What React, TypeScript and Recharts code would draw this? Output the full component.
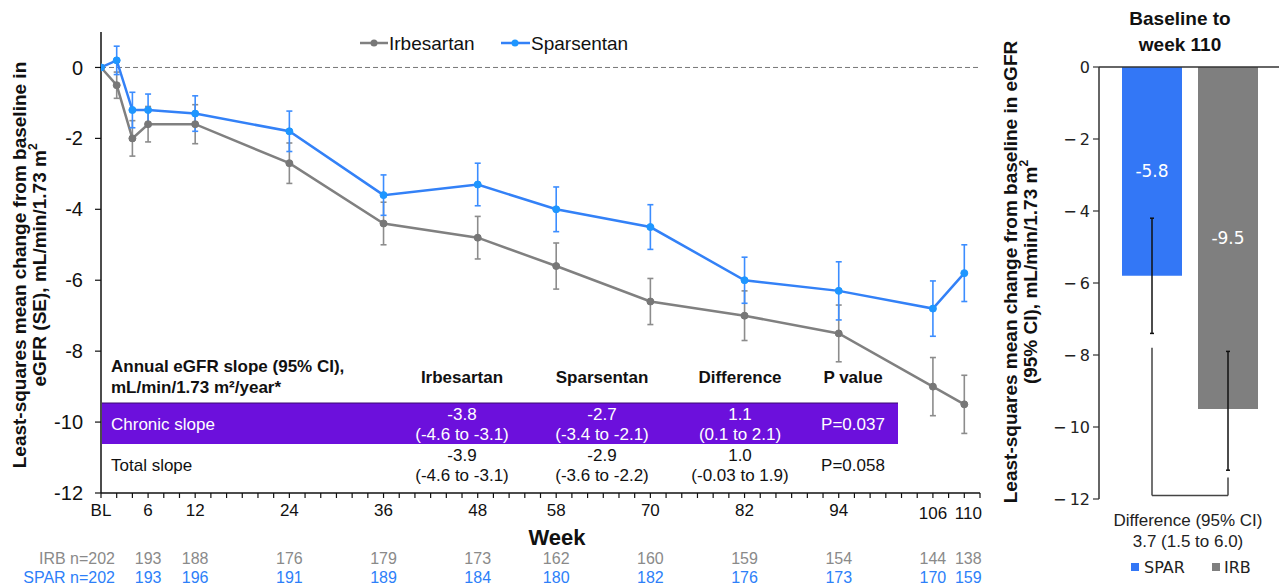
import React from 'react';
import {
  LineChart, Line, XAxis, YAxis, ErrorBar, ReferenceLine,
  BarChart, Bar, Cell, LabelList,
} from 'recharts';

// ---------- Left chart data ----------
const weeks = [0, 2, 4, 6, 12, 24, 36, 48, 58, 70, 82, 94, 106, 110];
const irbMean = [0, -0.5, -2.0, -1.6, -1.6, -2.7, -4.4, -4.8, -5.6, -6.6, -7.0, -7.5, -9.0, -9.5];
const irbSE = [null, 0.37, 0.5, 0.5, 0.55, 0.57, 0.6, 0.6, 0.65, 0.65, 0.7, 0.8, 0.82, 0.82];
const sparMean = [0, 0.2, -1.2, -1.2, -1.3, -1.8, -3.6, -3.3, -4.0, -4.5, -6.0, -6.3, -6.8, -5.8];
const sparSE = [null, 0.4, 0.5, 0.45, 0.5, 0.57, 0.57, 0.6, 0.63, 0.63, 0.65, 0.82, 0.78, 0.8];

const labelWeeks = [0, 6, 12, 24, 36, 48, 58, 70, 82, 94, 106, 110];
const weekLabels = ['BL', '6', '12', '24', '36', '48', '58', '70', '82', '94', '106', '110'];
const irbN = [202, 193, 188, 176, 179, 173, 162, 160, 159, 154, 144, 138];
const sparN = [202, 193, 196, 191, 189, 184, 180, 182, 176, 173, 170, 159];
const minorTicks = Array.from({ length: 57 }, (_, i) => i * 2);
const leftYTicks = [0, -2, -4, -6, -8, -10, -12];

// ---------- Table data ----------
const tableHeaders = ['Irbesartan', 'Sparsentan', 'Difference', 'P value'];
const chronicRow = [['-3.8', '(-4.6 to -3.1)'], ['-2.7', '(-3.4 to -2.1)'], ['1.1', '(0.1 to 2.1)'], ['P=0.037']];
const totalRow = [['-3.9', '(-4.6 to -3.1)'], ['-2.9', '(-3.6 to -2.2)'], ['1.0', '(-0.03 to 1.9)'], ['P=0.058']];

// ---------- Right chart data ----------
const barCats = ['SPAR', 'IRB'];
const barMeans = [-5.8, -9.5];
const barCILow = [-7.4, -11.2];
const barCIHigh = [-4.2, -7.9];
const bracketTop = [-7.8, -11.4];
const bracketBottom = -11.9;
const rightYTicks = [0, -2, -4, -6, -8, -10, -12];

const BLUE = '#3381F7';
const BLUE_DOT = '#1E96FF';
const GRAY = '#808080';
const BAR_BLUE = '#3377F6';
const BAR_GRAY = '#7F7F7F';
const PURPLE = '#6C10DC';
const FONT = '"Liberation Sans", Arial, Helvetica, sans-serif';
const VFONT = '"DejaVu Sans", Verdana, sans-serif';

const lineData = weeks.map((w, i) => ({
  week: w,
  irb: irbMean[i],
  irbErr: irbSE[i],
  spar: sparMean[i],
  sparErr: sparSE[i],
}));

const barData = barCats.map((c, i) => ({
  cat: c,
  mean: barMeans[i],
  ci: [barMeans[i] - barCILow[i], barCIHigh[i] - barMeans[i]],
}));

const colCenters = [462, 602, 740, 853];

function WeekTick(props: any) {
  const { x, y, payload } = props;
  const i = labelWeeks.indexOf(payload.value);
  if (i < 0) return <g />;
  const extra = payload.value >= 106 ? 3 : 0;
  const dx = payload.value === 110 ? 4 : 0;
  const cx = x + dx;
  return (
    <g fontFamily={FONT}>
      <text x={cx} y={y + 12 + extra} textAnchor="middle" dominantBaseline="central" fontSize={17} fill="#111">
        {weekLabels[i]}
      </text>
      {i === 0 ? (
        <>
          <text x={x + 14} y={558} textAnchor="end" dominantBaseline="central" fontSize={16} fill="#8a8a8a">{`IRB n=${irbN[i]}`}</text>
          <text x={x + 14} y={577} textAnchor="end" dominantBaseline="central" fontSize={16} fill="#2D7FF9">{`SPAR n=${sparN[i]}`}</text>
        </>
      ) : (
        <>
          <text x={cx} y={558} textAnchor="middle" dominantBaseline="central" fontSize={16} fill="#8a8a8a">{irbN[i]}</text>
          <text x={cx} y={577} textAnchor="middle" dominantBaseline="central" fontSize={16} fill="#2D7FF9">{sparN[i]}</text>
        </>
      )}
    </g>
  );
}

function TableRow({ y, row, label, white }: { y: number; row: string[][]; label: string; white: boolean }) {
  const fill = white ? '#fff' : '#111';
  return (
    <g fontFamily={FONT} fontSize={17} fill={fill}>
      <text x={111} y={y} dominantBaseline="central">{label}</text>
      {row.map((cell, j) =>
        cell.length === 2 ? (
          <g key={j}>
            <text x={colCenters[j]} y={y - 10} textAnchor="middle" dominantBaseline="central">{cell[0]}</text>
            <text x={colCenters[j]} y={y + 10} textAnchor="middle" dominantBaseline="central">{cell[1]}</text>
          </g>
        ) : (
          <text key={j} x={colCenters[j]} y={y} textAnchor="middle" dominantBaseline="central">{cell[0]}</text>
        )
      )}
    </g>
  );
}

export default function App() {
  return (
    <div style={{ position: 'absolute', left: 0, top: 0, width: 1279, height: 587, background: '#fff', fontFamily: FONT }}>
      <div style={{ position: 'absolute', left: 0, top: 0 }}>
        <LineChart width={990} height={587} data={lineData} margin={{ top: 32, right: 10, bottom: 64, left: 51 }}>
          <XAxis
            dataKey="week"
            type="number"
            domain={[0, 112]}
            ticks={minorTicks}
            interval={0}
            height={30}
            tickSize={5}
            tickMargin={0}
            axisLine={{ stroke: '#111', strokeWidth: 1.5 }}
            tickLine={{ stroke: '#111', strokeWidth: 1.2 }}
            tick={<WeekTick />}
            allowDataOverflow
          />
          <YAxis
            type="number"
            domain={[-12, 1]}
            ticks={leftYTicks}
            interval={0}
            width={50}
            tickSize={6}
            tickMargin={12}
            axisLine={{ stroke: '#111', strokeWidth: 1.5 }}
            tickLine={{ stroke: '#111', strokeWidth: 1.2 }}
            tick={{ fill: '#111', fontSize: 20, fontFamily: FONT }}
            allowDataOverflow
          />
          <ReferenceLine y={0} stroke="#777" strokeDasharray="5 3" strokeWidth={1} />
          <Line
            dataKey="irb"
            stroke={GRAY}
            strokeWidth={2.5}
            dot={{ r: 3.5, fill: '#777', stroke: '#777', strokeWidth: 1 }}
            isAnimationActive={false}
          >
            <ErrorBar dataKey="irbErr" width={3} stroke="#8c8c8c" strokeWidth={1.6} direction="y" />
          </Line>
          <Line
            dataKey="spar"
            stroke={BLUE}
            strokeWidth={2.5}
            dot={{ r: 3.5, fill: BLUE_DOT, stroke: BLUE_DOT, strokeWidth: 1 }}
            isAnimationActive={false}
          >
            <ErrorBar dataKey="sparErr" width={3} stroke="#3C8DFF" strokeWidth={1.6} direction="y" />
          </Line>
        </LineChart>
      </div>

      <div style={{ position: 'absolute', left: 1000, top: 0 }}>
        <BarChart width={279} height={587} data={barData} margin={{ top: 67, right: 0, bottom: 88, left: 49 }}>
          <XAxis dataKey="cat" hide padding={{ left: 15, right: 13 }} />
          <YAxis
            type="number"
            domain={[-12, 0]}
            ticks={rightYTicks}
            interval={0}
            width={50}
            tickSize={6}
            tickMargin={3}
            axisLine={{ stroke: '#333', strokeWidth: 1.5 }}
            tickLine={{ stroke: '#333', strokeWidth: 1.2 }}
            tick={{ fill: '#222', fontSize: 16, fontFamily: VFONT }}
            tickFormatter={(v: number) => (v === 0 ? '0' : '\u2212\u2009' + Math.abs(v))}
          />
          <Bar dataKey="mean" barSize={60} isAnimationActive={false}>
            {barData.map((d, i) => (
              <Cell key={d.cat} fill={i === 0 ? BAR_BLUE : BAR_GRAY} />
            ))}
            <LabelList dataKey="mean" position="center" fill="#fff" fontSize={17} fontFamily={VFONT} />
            <ErrorBar dataKey="ci" width={2} stroke="#111" strokeWidth={1.5} direction="y" />
          </Bar>
          <ReferenceLine y={0} stroke="#333" strokeWidth={1.5} />
          <ReferenceLine
            segment={[{ x: barCats[0], y: bracketTop[0] }, { x: barCats[0], y: bracketBottom }]}
            stroke="#444"
            strokeWidth={1.5}
          />
          <ReferenceLine
            segment={[{ x: barCats[0], y: bracketBottom }, { x: barCats[1], y: bracketBottom }]}
            stroke="#444"
            strokeWidth={1.5}
          />
          <ReferenceLine
            segment={[{ x: barCats[1], y: bracketBottom }, { x: barCats[1], y: bracketTop[1] }]}
            stroke="#444"
            strokeWidth={1.5}
          />
        </BarChart>
      </div>

      <svg width={1279} height={587} style={{ position: 'absolute', left: 0, top: 0, pointerEvents: 'none' }}>
        {/* Legend */}
        <g fontFamily={FONT} fontSize={19} fill="#111">
          <line x1={360} y1={43} x2={388} y2={43} stroke={GRAY} strokeWidth={2.5} />
          <circle cx={374} cy={43} r={3.5} fill="#777" />
          <text x={389} y={43} dominantBaseline="central">Irbesartan</text>
          <line x1={501} y1={43} x2={530} y2={43} stroke={BLUE} strokeWidth={2.5} />
          <circle cx={515} cy={43} r={3.5} fill={BLUE_DOT} />
          <text x={531} y={43} dominantBaseline="central">Sparsentan</text>
        </g>

        {/* Left y-axis title */}
        <g fontFamily={FONT} fontSize={19} fontWeight="bold" fill="#111">
          <text x={19} y={265} textAnchor="middle" dominantBaseline="central" transform="rotate(-90 19 265)">
            Least-squares mean change from baseline in
          </text>
          <text x={39} y={265} textAnchor="middle" dominantBaseline="central" transform="rotate(-90 39 265)">
            eGFR (SE), mL/min/1.73 m<tspan fontSize={12} dy={-6}>2</tspan>
          </text>
        </g>

        {/* Week label */}
        <text x={557} y={537} textAnchor="middle" dominantBaseline="central" fontFamily={FONT} fontSize={22} fontWeight="bold" fill="#111">
          Week
        </text>

        {/* Table */}
        <g fontFamily={FONT} fontSize={17} fontWeight="bold" fill="#111">
          <text x={111} y={366} dominantBaseline="central">Annual eGFR slope (95% CI),</text>
          <text x={111} y={387} dominantBaseline="central">mL/min/1.73 m²/year*</text>
          {tableHeaders.map((h, j) => (
            <text key={h} x={colCenters[j]} y={377} textAnchor="middle" dominantBaseline="central">{h}</text>
          ))}
        </g>
        <rect x={102} y={403} width={796} height={41} fill={PURPLE} />
        <line x1={102} y1={403} x2={898} y2={403} stroke="#3a0a70" strokeWidth={1} />
        <TableRow y={424} row={chronicRow} label="Chronic slope" white />
        <TableRow y={465} row={totalRow} label="Total slope" white={false} />

        {/* Right chart title */}
        <g fontFamily={FONT} fontSize={19} fontWeight="bold" fill="#111">
          <text x={1180} y={18} textAnchor="middle" dominantBaseline="central">Baseline to</text>
          <text x={1180} y={44} textAnchor="middle" dominantBaseline="central">week 110</text>
        </g>

        {/* Right y-axis title */}
        <g fontFamily={FONT} fontSize={19} fontWeight="bold" fill="#111">
          <text x={1010} y={272} textAnchor="middle" dominantBaseline="central" transform="rotate(-90 1010 272)">
            Least-squares mean change from baseline in eGFR
          </text>
          <text x={1030} y={272} textAnchor="middle" dominantBaseline="central" transform="rotate(-90 1030 272)">
            (95% CI), mL/min/1.73 m<tspan fontSize={12} dy={-6}>2</tspan>
          </text>
        </g>

        {/* Difference text */}
        <g fontFamily={FONT} fontSize={17} fill="#222">
          <text x={1188} y={520} textAnchor="middle" dominantBaseline="central">Difference (95% CI)</text>
          <text x={1188} y={541} textAnchor="middle" dominantBaseline="central">3.7 (1.5 to 6.0)</text>
        </g>

        {/* Right legend */}
        <g fontFamily={VFONT} fontSize={16} fill="#222">
          <rect x={1131} y={563} width={8} height={8} fill={BAR_BLUE} />
          <text x={1144} y={567} dominantBaseline="central">SPAR</text>
          <rect x={1212} y={563} width={8} height={8} fill={BAR_GRAY} />
          <text x={1224} y={567} dominantBaseline="central">IRB</text>
        </g>
      </svg>
    </div>
  );
}
